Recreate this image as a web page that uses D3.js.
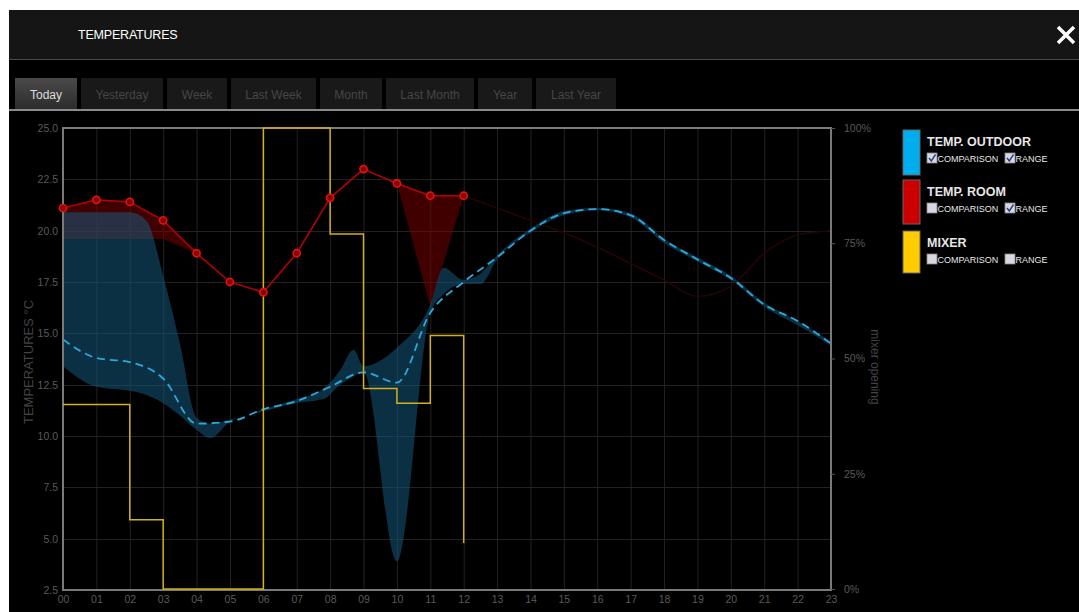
<!DOCTYPE html>
<html><head><meta charset="utf-8">
<script src="https://cdn.jsdelivr.net/npm/d3@7"></script>
<style>
html,body{margin:0;padding:0;background:#fff;}
svg{display:block;font-family:"Liberation Sans",Arial,sans-serif;}
</style></head>
<body>
<svg id="chart" width="1079" height="612"></svg>
<script>
// ---------- DATA ----------
const hourLabels = ["00","01","02","03","04","05","06","07","08","09","10","11","12","13","14","15","16","17","18","19","20","21","22","23"];
const tempTicks = [2.5,5.0,7.5,10.0,12.5,15.0,17.5,20.0,22.5,25.0];
const pctTicks = [0,25,50,75,100];
const tabs = ["Today","Yesterday","Week","Last Week","Month","Last Month","Year","Last Year"];

// Room temperature (hourly, 00-12)
const roomHours = [0,1,2,3,4,5,6,7,8,9,10,11,12];
const roomTemp  = [21.1,21.5,21.4,20.5,18.9,17.5,17.0,18.9,21.6,23.0,22.3,21.7,21.7];
const roomRangeLow = [19.6,19.6,19.6,19.6,18.9,17.5,17.0,18.9,21.6,23.0,22.3,16.3,21.7];

// Room faint trace (12-23)
const roomCmpHours = [12,13,14,15,16,17,18,19,20,21,22,23];
const roomCmp      = [21.7,21.1,20.5,19.9,19.2,18.4,17.6,16.8,17.3,18.9,19.8,20.0];

// Outdoor temperature (hourly)
const outdoorHours = [0,1,2,3,4,5,6,7,8,9,10,11,12,13,14,15,16,17,18,19,20,21,22,23];
const outdoorTemp  = [14.7,13.8,13.6,12.8,10.6,10.7,11.3,11.7,12.4,13.1,12.6,16.0,17.5,18.7,20.0,20.85,21.05,20.75,19.55,18.6,17.7,16.4,15.6,14.5];

// Outdoor range
const outRangeHours = [0,1,2,2.5,3,3.5,4,4.4,5,6,7,7.8,8.3,8.7,9,10,11,11.4,12,12.5,13,14,15,16,17,18,19,20,21,22,23];
const outRangeLow   = [13.4,12.4,12.2,12.0,11.6,11.0,10.3,9.9,10.7,11.2,11.6,11.8,12.5,12.9,13.1,3.9,16.0,16.9,17.4,17.4,18.6,19.9,20.75,21.0,20.65,19.4,18.5,17.6,16.3,15.4,14.4];
const outRangeHigh  = [20.9,20.9,20.9,20.5,17.8,14.5,10.9,10.6,10.8,11.3,11.8,12.3,13.2,14.2,13.4,14.3,16.4,18.2,17.6,17.9,18.8,20.1,20.95,21.1,20.85,19.6,18.7,17.8,16.5,15.6,14.6];

// Mixer opening (%), step after
const mixerHours = [0,2,3,6,8,9,10,11,12];
const mixerPct   = [40,15,0,100,77,43.5,40.3,55,10];

// Legend
const legendItems = [
  {name:"TEMP. OUTDOOR", color:"#00aeef", cmp:true,  range:true},
  {name:"TEMP. ROOM",    color:"#cc0000", cmp:false, range:true},
  {name:"MIXER",         color:"#ffcc00", cmp:false, range:false}
];

// ---------- DRAW ----------
const svg = d3.select("#chart");
const X0 = 63, X1 = 831, Y0 = 128, Y1 = 590;
const x = d3.scaleLinear().domain([0,23]).range([X0,X1]);
const yT = d3.scaleLinear().domain([2.5,25]).range([Y1,Y0]);
const yP = d3.scaleLinear().domain([0,100]).range([Y1-1,Y0]);

// panel
svg.append("rect").attr("x",9).attr("y",10).attr("width",1070).attr("height",602).attr("fill","#000");
svg.append("rect").attr("x",9).attr("y",10).attr("width",1070).attr("height",49).attr("fill","#151515");
svg.append("line").attr("x1",9).attr("x2",1079).attr("y1",59.5).attr("y2",59.5).attr("stroke","#4a4a4a");
svg.append("text").attr("x",78).attr("y",39).attr("fill","#fff").attr("font-size",12.5).attr("letter-spacing","-0.2").text("TEMPERATURES");
// close X
const cx = 1066, cy = 35;
svg.append("path").attr("d",`M${cx-8},${cy-8}L${cx+8},${cy+8}M${cx+8},${cy-8}L${cx-8},${cy+8}`)
  .attr("stroke","#fff").attr("stroke-width",3.5);

// tabs
const tabX = [15,81,167,231,320,386,478,536];
const tabW = [62,82,60,85,62,88,54,80];
const defs = svg.append("defs");
const g1 = defs.append("linearGradient").attr("id","tabg").attr("x1",0).attr("x2",0).attr("y1",0).attr("y2",1);
g1.append("stop").attr("offset","0%").attr("stop-color","#4a4a4a");
g1.append("stop").attr("offset","100%").attr("stop-color","#2c2c2c");
tabs.forEach((t,i)=>{
  svg.append("rect").attr("x",tabX[i]).attr("y",78).attr("width",tabW[i]).attr("height",31)
    .attr("fill", i===0 ? "url(#tabg)" : "#191919");
  svg.append("text").attr("x",tabX[i]+tabW[i]/2).attr("y",99).attr("text-anchor","middle")
    .attr("font-size",12).attr("fill", i===0 ? "#dcdcdc" : "#464646").text(t);
});
svg.append("rect").attr("x",9).attr("y",109).attr("width",1070).attr("height",2).attr("fill","#8a8a8a");

// clip
defs.append("clipPath").attr("id","plotclip").append("rect")
  .attr("x",X0).attr("y",Y0).attr("width",X1-X0).attr("height",Y1-Y0);

// grid
const grid = svg.append("g");
grid.selectAll(".vg").data(hourLabels).enter().append("line")
  .attr("x1",(d,i)=>x(i)+0.5).attr("x2",(d,i)=>x(i)+0.5).attr("y1",Y0).attr("y2",Y1)
  .attr("stroke","#222");
grid.selectAll(".hg").data(tempTicks).enter().append("line")
  .attr("x1",X0).attr("x2",X1).attr("y1",d=>Math.round(yT(d))+0.5).attr("y2",d=>Math.round(yT(d))+0.5)
  .attr("stroke","#222");

const plot = svg.append("g").attr("clip-path","url(#plotclip)");

// room range
const roomRange = roomHours.map((h,i)=>({h, lo:roomRangeLow[i], hi:roomTemp[i]}));
plot.append("path").datum(roomRange)
  .attr("d", d3.area().x(d=>x(d.h)).y0(d=>yT(d.lo)).y1(d=>yT(d.hi)))
  .attr("fill","rgba(130,0,0,0.5)");

// outdoor range
const outRange = outRangeHours.map((h,i)=>({h, lo:outRangeLow[i], hi:outRangeHigh[i]}));
plot.append("path").datum(outRange)
  .attr("d", d3.area().curve(d3.curveMonotoneX).x(d=>x(d.h)).y0(d=>yT(d.lo)).y1(d=>yT(d.hi)))
  .attr("fill","rgba(20,88,122,0.55)");

// room faint trace
plot.append("path").datum(roomCmpHours.map((h,i)=>({h,v:roomCmp[i]})))
  .attr("d", d3.line().curve(d3.curveMonotoneX).x(d=>x(d.h)).y(d=>yT(d.v)))
  .attr("fill","none").attr("stroke","#260404").attr("stroke-width",1.5);

// frame
svg.append("path").attr("d",`M${X0},${Y0}H${X1}V${Y1}H${X0}Z`)
  .attr("fill","none").attr("stroke","#7a7a7a").attr("stroke-width",2);

// mixer
const mixer = mixerHours.map((h,i)=>({h,v:mixerPct[i]}));
svg.append("path").datum(mixer)
  .attr("d", d3.line().curve(d3.curveStepAfter).x(d=>x(d.h)).y(d=>yP(d.v)))
  .attr("fill","none").attr("stroke","#d2b01e").attr("stroke-width",1.5);

// room line
const room = roomHours.map((h,i)=>({h,v:roomTemp[i]}));
plot.append("path").datum(room)
  .attr("d", d3.line().x(d=>x(d.h)).y(d=>yT(d.v)))
  .attr("fill","none").attr("stroke","#b80000").attr("stroke-width",1.5);

// outdoor dashed line
const outdoor = outdoorHours.map((h,i)=>({h,v:outdoorTemp[i]}));
plot.append("path").datum(outdoor)
  .attr("d", d3.line().curve(d3.curveMonotoneX).x(d=>x(d.h)).y(d=>yT(d.v)))
  .attr("fill","none").attr("stroke","#2aa9dc").attr("stroke-width",1.8).attr("stroke-dasharray","8,5");

// room markers
svg.selectAll(".rm").data(room).enter().append("circle")
  .attr("cx",d=>x(d.h)).attr("cy",d=>yT(d.v)).attr("r",3.6)
  .attr("fill","#8a0000").attr("stroke","#e01414").attr("stroke-width",1.6);

// left axis
const ax = svg.append("g").attr("transform",`translate(${X0-4},0)`)
  .call(d3.axisLeft(yT).tickValues(tempTicks).tickFormat(d3.format(".1f")).tickSize(0).tickPadding(1));
ax.select(".domain").remove();
ax.selectAll("text").attr("fill","#5a5a5a").attr("font-size",10.5).attr("font-family","Liberation Sans, Arial, sans-serif");

// right axis
const ar = svg.append("g").attr("transform",`translate(${X1},0)`)
  .call(d3.axisRight(yP).tickValues(pctTicks).tickFormat(d=>d+"%").tickSize(4).tickPadding(9));
ar.select(".domain").remove();
ar.selectAll("line").attr("stroke","#555");
ar.selectAll("text").attr("fill","#5a5a5a").attr("font-size",10.5).attr("font-family","Liberation Sans, Arial, sans-serif");

// bottom axis
const ab = svg.append("g").attr("transform",`translate(0,${Y1})`)
  .call(d3.axisBottom(x).tickValues(d3.range(hourLabels.length)).tickFormat(i=>hourLabels[i]).tickSize(0).tickPadding(6));
ab.select(".domain").remove();
ab.selectAll("text").attr("fill","#5a5a5a").attr("font-size",10.5).attr("font-family","Liberation Sans, Arial, sans-serif");

// axis titles
svg.append("text").attr("transform","translate(33,362) rotate(-90)").attr("text-anchor","middle")
  .attr("fill","#444").attr("font-size",13).text("TEMPERATURES °C");
svg.append("text").attr("transform","translate(871,367) rotate(90)").attr("text-anchor","middle")
  .attr("fill","#444").attr("font-size",12).text("mixer opening");

// legend
const lg = svg.append("g");
const swY = [130,180,231], swH = [45,44,42];
legendItems.forEach((it,i)=>{
  lg.append("rect").attr("x",903).attr("y",swY[i]).attr("width",17).attr("height",swH[i])
    .attr("fill",it.color).attr("stroke","#666").attr("stroke-width",1);
  lg.append("text").attr("x",927).attr("y",swY[i]+16).attr("fill","#e6e6e6")
    .attr("font-size",12.5).attr("font-weight","bold").text(it.name);
  const by = swY[i]+23;
  [[927,it.cmp,"COMPARISON"],[1005,it.range,"RANGE"]].forEach(([bx,chk,lab])=>{
    lg.append("rect").attr("x",bx).attr("y",by).attr("width",10).attr("height",10)
      .attr("fill","#d8d8e0").attr("stroke","#888").attr("stroke-width",0.8);
    if(chk){
      lg.append("path").attr("d",`M${bx+2},${by+5}L${bx+4.3},${by+8}L${bx+8.5},${by+1.5}`)
        .attr("fill","none").attr("stroke","#2a3a8a").attr("stroke-width",1.4);
    }
    lg.append("text").attr("x",bx+10.5).attr("y",by+9).attr("fill","#e6e6e6")
      .attr("font-size",9).text(lab);
  });
});
</script>
</body></html>
